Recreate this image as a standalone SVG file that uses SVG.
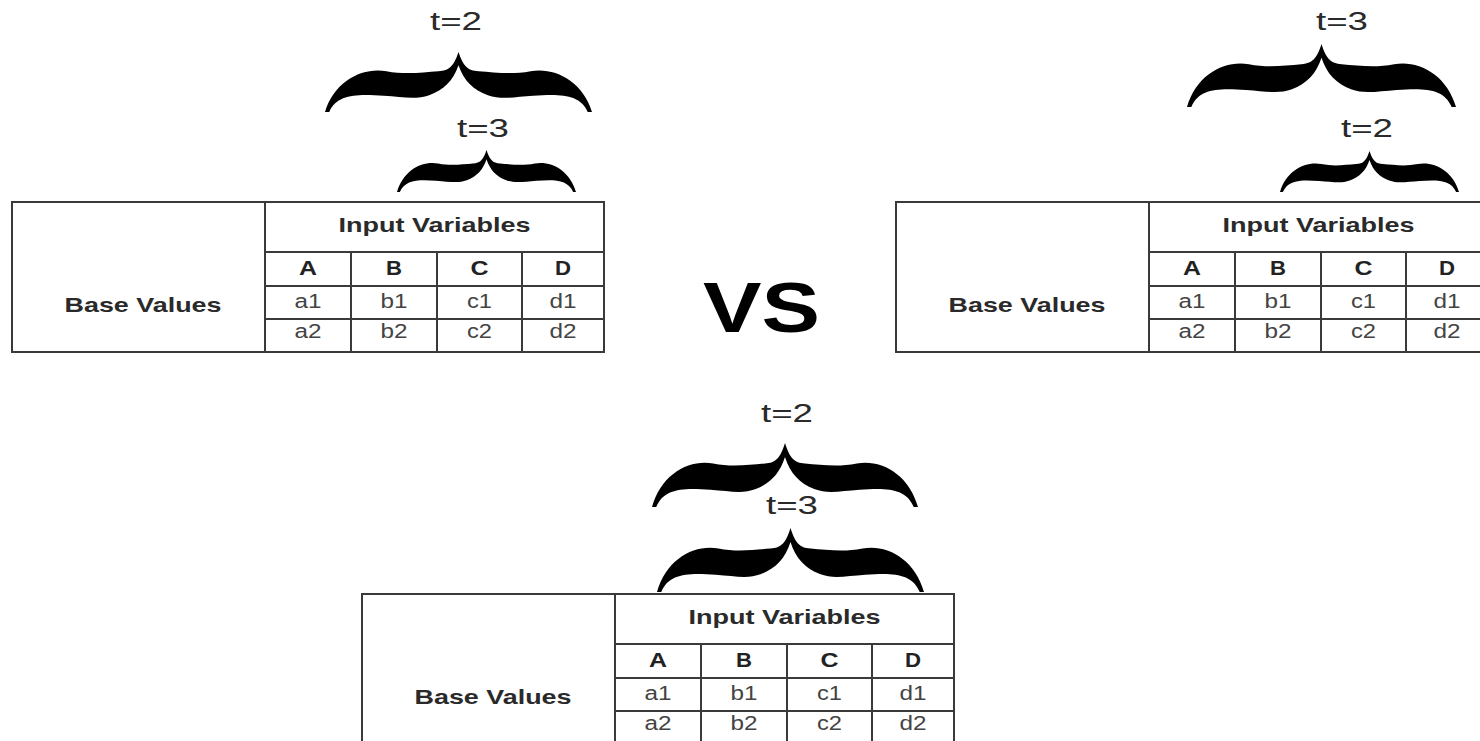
<svg xmlns="http://www.w3.org/2000/svg" xmlns:xlink="http://www.w3.org/1999/xlink" width="1480" height="741" viewBox="0 0 1480 741">
<style>
.bg{fill:#ffffff}
.grid{fill:none;stroke:#3a3a3a;stroke-width:2}
.hdr{font-family:"Liberation Sans",Arial,sans-serif;font-weight:bold;font-size:21px;fill:#2a2a2a;text-anchor:middle}
.col{font-family:"Liberation Sans",Arial,sans-serif;font-weight:bold;font-size:20px;fill:#222;text-anchor:middle}
.cell{font-family:"Liberation Sans",Arial,sans-serif;font-size:20px;fill:#444;text-anchor:middle}
.lbl{font-family:"Liberation Sans",Arial,sans-serif;font-size:25px;fill:#2a2a2a;text-anchor:middle}
.vs{font-family:"Liberation Sans",Arial,sans-serif;font-weight:bold;font-size:70px;fill:#000;text-anchor:middle}
.brace{fill:#000}
</style>
<defs>
<path id="bracePath" d="M500,0 C482,24 465,31 425,32 C365,34 300,38 230,32 C140,25 35,48 0,100 L16,100 C45,70 120,70 220,73 C290,75 340,80 390,72 C445,63 480,48 500,22 C520,48 555,63 610,72 C660,80 710,75 780,73 C880,70 955,70 984,100 L1000,100 C965,48 860,25 770,32 C700,38 635,34 575,32 C535,31 518,24 500,0 Z"/>
</defs>
<rect class="bg" x="0" y="0" width="1480" height="741"/>

<g id="connectors"></g>

<g id="brace-left-t2">
<use xlink:href="#bracePath" class="brace" transform="translate(325,52) scale(0.267,0.60)"/>
<text class="lbl" x="456" y="30" textLength="52" lengthAdjust="spacingAndGlyphs">t=2</text>
</g>
<g id="brace-left-t3">
<use xlink:href="#bracePath" class="brace" transform="translate(397,150) scale(0.179,0.42)"/>
<text class="lbl" x="483" y="137" textLength="52" lengthAdjust="spacingAndGlyphs">t=3</text>
</g>

<g id="table-left" transform="translate(12,202)">
<rect class="grid" x="0" y="0" width="592" height="150"/>
<path class="grid" d="M253,0 V150 M253,50 H592 M253,84 H592 M253,117 H592 M339,50 V150 M425,50 V150 M510,50 V150"/>
<text class="hdr" x="422.5" y="30" textLength="192" lengthAdjust="spacingAndGlyphs">Input Variables</text>
<text class="hdr" x="131" y="110" textLength="157" lengthAdjust="spacingAndGlyphs">Base Values</text>
<text class="col" x="296" y="73" textLength="18" lengthAdjust="spacingAndGlyphs">A</text>
<text class="col" x="382" y="73" textLength="16" lengthAdjust="spacingAndGlyphs">B</text>
<text class="col" x="467.5" y="73" textLength="18" lengthAdjust="spacingAndGlyphs">C</text>
<text class="col" x="551" y="73" textLength="16" lengthAdjust="spacingAndGlyphs">D</text>
<text class="cell" x="296" y="106" textLength="27" lengthAdjust="spacingAndGlyphs">a1</text>
<text class="cell" x="382" y="106" textLength="27" lengthAdjust="spacingAndGlyphs">b1</text>
<text class="cell" x="467.5" y="106" textLength="25" lengthAdjust="spacingAndGlyphs">c1</text>
<text class="cell" x="551" y="106" textLength="27" lengthAdjust="spacingAndGlyphs">d1</text>
<text class="cell" x="296" y="136" textLength="27" lengthAdjust="spacingAndGlyphs">a2</text>
<text class="cell" x="382" y="136" textLength="27" lengthAdjust="spacingAndGlyphs">b2</text>
<text class="cell" x="467.5" y="136" textLength="25" lengthAdjust="spacingAndGlyphs">c2</text>
<text class="cell" x="551" y="136" textLength="27" lengthAdjust="spacingAndGlyphs">d2</text>
</g>

<g id="vs-label">
<text class="vs" x="761.5" y="332" textLength="117" lengthAdjust="spacingAndGlyphs">VS</text>
</g>

<g id="brace-right-t3">
<use xlink:href="#bracePath" class="brace" transform="translate(1187,44) scale(0.269,0.63)"/>
<text class="lbl" x="1342" y="30" textLength="52" lengthAdjust="spacingAndGlyphs">t=3</text>
</g>
<g id="brace-right-t2">
<use xlink:href="#bracePath" class="brace" transform="translate(1280,151) scale(0.179,0.41)"/>
<text class="lbl" x="1367" y="137" textLength="52" lengthAdjust="spacingAndGlyphs">t=2</text>
</g>

<g id="table-right" transform="translate(896,202)">
<rect class="grid" x="0" y="0" width="592" height="150"/>
<path class="grid" d="M253,0 V150 M253,50 H592 M253,84 H592 M253,117 H592 M339,50 V150 M425,50 V150 M510,50 V150"/>
<text class="hdr" x="422.5" y="30" textLength="192" lengthAdjust="spacingAndGlyphs">Input Variables</text>
<text class="hdr" x="131" y="110" textLength="157" lengthAdjust="spacingAndGlyphs">Base Values</text>
<text class="col" x="296" y="73" textLength="18" lengthAdjust="spacingAndGlyphs">A</text>
<text class="col" x="382" y="73" textLength="16" lengthAdjust="spacingAndGlyphs">B</text>
<text class="col" x="467.5" y="73" textLength="18" lengthAdjust="spacingAndGlyphs">C</text>
<text class="col" x="551" y="73" textLength="16" lengthAdjust="spacingAndGlyphs">D</text>
<text class="cell" x="296" y="106" textLength="27" lengthAdjust="spacingAndGlyphs">a1</text>
<text class="cell" x="382" y="106" textLength="27" lengthAdjust="spacingAndGlyphs">b1</text>
<text class="cell" x="467.5" y="106" textLength="25" lengthAdjust="spacingAndGlyphs">c1</text>
<text class="cell" x="551" y="106" textLength="27" lengthAdjust="spacingAndGlyphs">d1</text>
<text class="cell" x="296" y="136" textLength="27" lengthAdjust="spacingAndGlyphs">a2</text>
<text class="cell" x="382" y="136" textLength="27" lengthAdjust="spacingAndGlyphs">b2</text>
<text class="cell" x="467.5" y="136" textLength="25" lengthAdjust="spacingAndGlyphs">c2</text>
<text class="cell" x="551" y="136" textLength="27" lengthAdjust="spacingAndGlyphs">d2</text>
</g>

<g id="brace-bottom-t2">
<use xlink:href="#bracePath" class="brace" transform="translate(652,443) scale(0.266,0.64)"/>
<text class="lbl" x="787" y="422" textLength="52" lengthAdjust="spacingAndGlyphs">t=2</text>
</g>
<g id="brace-bottom-t3">
<use xlink:href="#bracePath" class="brace" transform="translate(657,528) scale(0.267,0.64)"/>
<text class="lbl" x="792" y="514" textLength="52" lengthAdjust="spacingAndGlyphs">t=3</text>
</g>

<g id="table-bottom" transform="translate(362,594)">
<rect class="grid" x="0" y="0" width="592" height="150"/>
<path class="grid" d="M253,0 V150 M253,50 H592 M253,84 H592 M253,117 H592 M339,50 V150 M425,50 V150 M510,50 V150"/>
<text class="hdr" x="422.5" y="30" textLength="192" lengthAdjust="spacingAndGlyphs">Input Variables</text>
<text class="hdr" x="131" y="110" textLength="157" lengthAdjust="spacingAndGlyphs">Base Values</text>
<text class="col" x="296" y="73" textLength="18" lengthAdjust="spacingAndGlyphs">A</text>
<text class="col" x="382" y="73" textLength="16" lengthAdjust="spacingAndGlyphs">B</text>
<text class="col" x="467.5" y="73" textLength="18" lengthAdjust="spacingAndGlyphs">C</text>
<text class="col" x="551" y="73" textLength="16" lengthAdjust="spacingAndGlyphs">D</text>
<text class="cell" x="296" y="106" textLength="27" lengthAdjust="spacingAndGlyphs">a1</text>
<text class="cell" x="382" y="106" textLength="27" lengthAdjust="spacingAndGlyphs">b1</text>
<text class="cell" x="467.5" y="106" textLength="25" lengthAdjust="spacingAndGlyphs">c1</text>
<text class="cell" x="551" y="106" textLength="27" lengthAdjust="spacingAndGlyphs">d1</text>
<text class="cell" x="296" y="136" textLength="27" lengthAdjust="spacingAndGlyphs">a2</text>
<text class="cell" x="382" y="136" textLength="27" lengthAdjust="spacingAndGlyphs">b2</text>
<text class="cell" x="467.5" y="136" textLength="25" lengthAdjust="spacingAndGlyphs">c2</text>
<text class="cell" x="551" y="136" textLength="27" lengthAdjust="spacingAndGlyphs">d2</text>
</g>
</svg>
